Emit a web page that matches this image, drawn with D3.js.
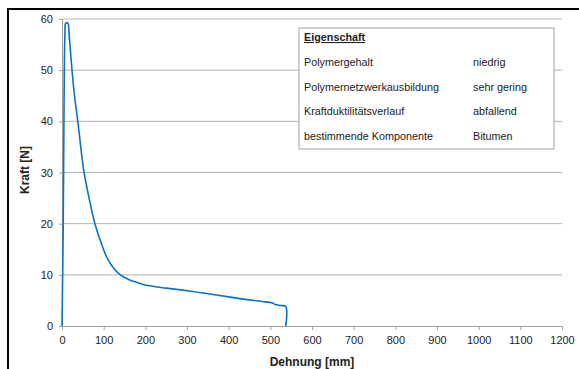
<!DOCTYPE html>
<meta charset="utf-8">
<style>
  body { margin: 0; background: #fff; }
  text { font-family: "Liberation Sans", Arial, sans-serif; fill: #222; }
  .grid line { stroke: #b4b4b4; stroke-width: 1px; }
  .axis path, .axis line { stroke: #a0a0a0; }
  .axis text { font-size: 11px; fill: #222; }
  .curve { fill: none; stroke: #0a72c4; stroke-width: 1.6px; }
  .legend text { font-size: 10.8px; }
</style>
<svg width="579" height="369"></svg>
<script src="https://d3js.org/d3.v7.min.js"></script>
<script>

// Dehnung [mm] / Kraft [N]
var dehnung = [0, 3, 5, 7, 9, 14, 17, 20, 24, 30, 38, 45, 53, 65, 79, 95, 110, 125, 140, 160, 180, 200, 250, 300, 350, 400, 440, 480, 505, 512, 525, 537, 537];
var kraft   = [0, 20, 45, 57, 59.2, 59.2, 57, 54, 50, 45, 40, 35, 30, 25, 20, 16, 13, 11.2, 10, 9.1, 8.5, 8.0, 7.4, 6.9, 6.3, 5.7, 5.2, 4.8, 4.5, 4.2, 4.0, 3.8, 0];

var xTicks = [0, 100, 200, 300, 400, 500, 600, 700, 800, 900, 1000, 1100, 1200];
var yTicks = [0, 10, 20, 30, 40, 50, 60];

var legendTitle = "Eigenschaft";
var legendKeys = ["Polymergehalt", "Polymernetzwerkausbildung", "Kraftduktilitätsverlauf", "bestimmende Komponente"];
var legendVals = ["niedrig", "sehr gering", "abfallend", "Bitumen"];

var svg = d3.select("svg"),
    margin = {top: 19, right: 17, bottom: 43, left: 62},
    width = +svg.attr("width") - margin.left - margin.right,
    height = +svg.attr("height") - margin.top - margin.bottom;

var data = dehnung.map(function(d, i) { return {x: d, y: kraft[i]}; });

var x = d3.scaleLinear().domain([0, 1200]).range([0, width]);
var y = d3.scaleLinear().domain([0, 60]).range([height, 0]);

// outer frame
svg.append("rect")
    .attr("x", 8).attr("y", 9)
    .attr("width", 620).attr("height", 420)
    .style("fill", "none").style("stroke", "#000").style("stroke-width", 2);

var g = svg.append("g")
    .attr("transform", "translate(" + margin.left + "," + margin.top + ")");

g.append("g")
    .attr("class", "grid")
    .selectAll("line")
    .data(yTicks.slice(1))
    .enter().append("line")
    .attr("x1", 0).attr("x2", width)
    .attr("y1", function(d) { return y(d); })
    .attr("y2", function(d) { return y(d); });

g.append("g")
    .attr("class", "axis")
    .attr("transform", "translate(0," + height + ")")
    .call(d3.axisBottom(x).tickValues(xTicks).tickFormat(d3.format("d"))
      .tickSize(4).tickSizeOuter(0).tickPadding(6));

g.append("g")
    .attr("class", "axis")
    .call(d3.axisLeft(y).tickValues(yTicks).tickFormat(d3.format("d"))
      .tickSize(3).tickSizeOuter(0).tickPadding(6));

var line = d3.line()
    .x(function(d) { return x(d.x); })
    .y(function(d) { return y(d.y); })
    .curve(d3.curveCatmullRom.alpha(0.5));

g.append("path")
    .datum(data)
    .attr("class", "curve")
    .attr("d", line);

// axis titles
svg.append("text")
    .attr("x", margin.left + width / 2)
    .attr("y", 366)
    .attr("text-anchor", "middle")
    .style("font-size", "12px").style("font-weight", "bold")
    .text("Dehnung [mm]");

svg.append("text")
    .attr("transform", "translate(29," + 170 + ") rotate(-90)")
    .attr("text-anchor", "middle")
    .style("font-size", "12px").style("font-weight", "bold")
    .text("Kraft [N]");

// legend table
var legend = svg.append("g").attr("class", "legend");
legend.append("rect")
    .attr("x", 299).attr("y", 28)
    .attr("width", 255).attr("height", 121)
    .style("fill", "#fff").style("stroke", "#a0a0a0").style("stroke-width", 1);

legend.append("text")
    .attr("x", 304).attr("y", 41)
    .style("font-weight", "bold")
    .style("text-decoration", "underline")
    .text(legendTitle);

legend.selectAll("text.key")
    .data(legendKeys)
    .enter().append("text")
    .attr("class", "key")
    .attr("x", 304)
    .attr("y", function(d, i) { return 66 + i * 24.5; })
    .text(function(d) { return d; });

legend.selectAll("text.val")
    .data(legendVals)
    .enter().append("text")
    .attr("class", "val")
    .attr("x", 473)
    .attr("y", function(d, i) { return 66 + i * 24.5; })
    .text(function(d) { return d; });

</script>
